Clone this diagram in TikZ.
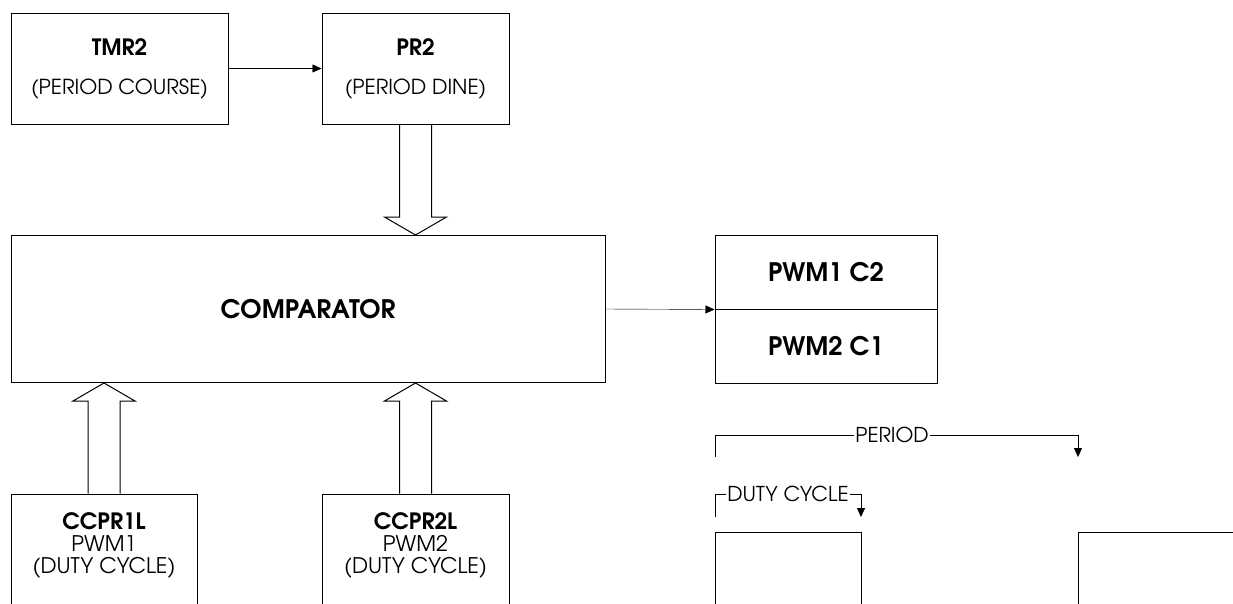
\documentclass[tikz,border=0pt]{standalone}
\usepackage{fontspec}
\setmainfont{TeX Gyre Adventor}
\usetikzlibrary{arrows.meta,calc}

% bold register name
\newcommand{\regname}[1]{{\fontsize{22.5}{22}\selectfont\bfseries #1}}

% hollow arrow from #1 to #2
\newcommand{\fatarrow}[2]{%
  \path ($(#2)!18pt!(#1)$) coordinate (fh);
  \draw[fat] ($(#1)!16pt!90:(#2)$) -- ($(fh)!16pt!90:(#2)$) -- ($(fh)!31pt!90:(#2)$) -- (#2)
    -- ($(fh)!31pt!-90:(#2)$) -- ($(fh)!16pt!-90:(#2)$) -- ($(#1)!16pt!-90:(#2)$);
}

\begin{document}
\begin{tikzpicture}[x=1pt,y=-1pt,
  every node/.style={font=\fontsize{20.7}{22}\selectfont},
  box/.style={draw,line width=1pt,inner sep=0pt,align=center},
  big/.style={font=\fontsize{25.5}{25.5}\selectfont\bfseries},
  txt/.style={align=center,inner sep=0pt,font=\fontsize{21.5}{22}\selectfont},
  small/.style={font=\fontsize{20.5}{20.5}\selectfont,inner sep=1.5pt},
  fat/.style={line width=1pt,line join=miter},
  >={Triangle[length=9pt,width=8pt]}]
\clip (0,0) rectangle (1233,603);

% registers
\node[box,minimum width=217pt,minimum height=111pt] (tmr) at (119.5,68.5) {\regname{TMR2}\\[17pt](PERIOD COURSE)};
\node[box,minimum width=187pt,minimum height=111pt] (pr2) at (415.5,68.5) {\regname{PR2}\\[17pt](PERIOD DINE)};
\node[box,big,minimum width=594pt,minimum height=147pt] (cmp) at (308,309) {COMPARATOR};
\node[box,big,minimum width=222pt,minimum height=74pt] (pwma) at (826,272) {PWM1 C2};
\node[box,big,minimum width=222pt,minimum height=74pt] (pwmb) at (826,346) {PWM2 C1};
\node[box,minimum width=186pt,minimum height=140pt] (c1) at (104,564) {};
\node[box,minimum width=187pt,minimum height=140pt] (c2) at (415.5,564) {};
\node[txt] (c1txt) at (104,545) {\regname{CCPR1L}\\PWM1\\(DUTY CYCLE)};
\node[txt] (c2txt) at (415.5,545) {\regname{CCPR2L}\\PWM2\\(DUTY CYCLE)};

\draw[->] (tmr.east) -- (pr2.west);
\draw[->] (cmp.east) -- (pwma.south west);

\coordinate (pr2in) at (cmp.north -| pr2.south);
\coordinate (c1in) at (cmp.south -| c1.north);
\coordinate (c2in) at (cmp.south -| c2.north);
\fatarrow{pr2.south}{pr2in}
\fatarrow{c1.north}{c1in}
\fatarrow{c2.north}{c2in}

% timing
\node[small] (per) at (892,435) {PERIOD};
\coordinate (p0) at (715,457);
\coordinate (p1) at (1078,457);
\draw (p0) |- (per.west);
\draw[->] (per.east) -| (p1);

\node[small] (duty) at (788,494) {DUTY CYCLE};
\coordinate (d0) at (715,517);
\coordinate (d1) at (861,517);
\draw (d0) |- (duty.west);
\draw[->] (duty.east) -| (d1);

\coordinate (w0) at (715,610);
\coordinate (w1) at (861,532);
\coordinate (w2) at (861,610);
\coordinate (w3) at (1078,610);
\coordinate (w4) at (1240,532);
\draw (w0) |- (w1) -- (w2);
\draw (w3) |- (w4);
\end{tikzpicture}
\end{document}
